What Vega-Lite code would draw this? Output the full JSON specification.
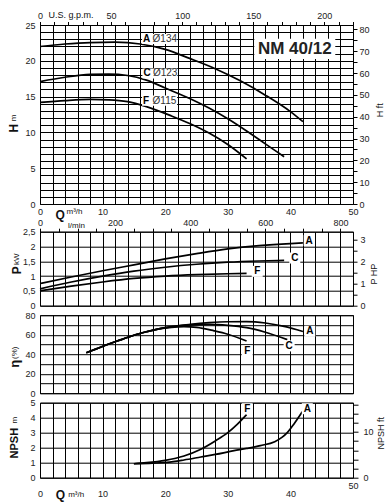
{
  "$schema": "https://vega.github.io/schema/vega-lite/v6.json",
  "padding": {"left": 6, "top": 9, "right": 0, "bottom": 0},
  "background": "white",
  "bounds": "flush",
  "spacing": 27.7,
  "datasets": {
    "H": [
      {"curve": "A", "q": 0, "h": 22.0}, {"curve": "A", "q": 4, "h": 22.35}, {"curve": "A", "q": 8, "h": 22.55}, {"curve": "A", "q": 12, "h": 22.6}, {"curve": "A", "q": 16, "h": 22.35}, {"curve": "A", "q": 20, "h": 21.6}, {"curve": "A", "q": 24, "h": 20.3}, {"curve": "A", "q": 28, "h": 18.9}, {"curve": "A", "q": 32, "h": 17.2}, {"curve": "A", "q": 36, "h": 15.2}, {"curve": "A", "q": 40, "h": 12.9}, {"curve": "A", "q": 42, "h": 11.5},
      {"curve": "C", "q": 0, "h": 17.1}, {"curve": "C", "q": 4, "h": 17.7}, {"curve": "C", "q": 8, "h": 18.1}, {"curve": "C", "q": 11, "h": 18.15}, {"curve": "C", "q": 14, "h": 17.95}, {"curve": "C", "q": 17, "h": 17.3}, {"curve": "C", "q": 20, "h": 16.2}, {"curve": "C", "q": 24, "h": 14.7}, {"curve": "C", "q": 27, "h": 13.4}, {"curve": "C", "q": 30, "h": 11.9}, {"curve": "C", "q": 33, "h": 10.2}, {"curve": "C", "q": 36, "h": 8.4}, {"curve": "C", "q": 39, "h": 6.6},
      {"curve": "F", "q": 0, "h": 14.2}, {"curve": "F", "q": 4, "h": 14.45}, {"curve": "F", "q": 8, "h": 14.6}, {"curve": "F", "q": 11, "h": 14.55}, {"curve": "F", "q": 14, "h": 14.3}, {"curve": "F", "q": 17, "h": 13.6}, {"curve": "F", "q": 21, "h": 12.3}, {"curve": "F", "q": 24, "h": 11.2}, {"curve": "F", "q": 27, "h": 9.9}, {"curve": "F", "q": 30, "h": 8.3}, {"curve": "F", "q": 33, "h": 6.3}
    ],
    "P": [
      {"curve": "A", "q": 0, "p": 0.75}, {"curve": "A", "q": 5, "p": 0.97}, {"curve": "A", "q": 10, "p": 1.18}, {"curve": "A", "q": 15, "p": 1.38}, {"curve": "A", "q": 20, "p": 1.58}, {"curve": "A", "q": 25, "p": 1.76}, {"curve": "A", "q": 30, "p": 1.92}, {"curve": "A", "q": 35, "p": 2.03}, {"curve": "A", "q": 40, "p": 2.1}, {"curve": "A", "q": 42, "p": 2.12},
      {"curve": "C", "q": 0, "p": 0.57}, {"curve": "C", "q": 5, "p": 0.8}, {"curve": "C", "q": 10, "p": 1.0}, {"curve": "C", "q": 15, "p": 1.17}, {"curve": "C", "q": 20, "p": 1.3}, {"curve": "C", "q": 25, "p": 1.4}, {"curve": "C", "q": 30, "p": 1.47}, {"curve": "C", "q": 35, "p": 1.51}, {"curve": "C", "q": 39, "p": 1.53},
      {"curve": "F", "q": 0, "p": 0.5}, {"curve": "F", "q": 5, "p": 0.66}, {"curve": "F", "q": 10, "p": 0.8}, {"curve": "F", "q": 15, "p": 0.92}, {"curve": "F", "q": 20, "p": 1.0}, {"curve": "F", "q": 25, "p": 1.05}, {"curve": "F", "q": 30, "p": 1.08}, {"curve": "F", "q": 33, "p": 1.09}
    ],
    "E": [
      {"curve": "A", "q": 7.4, "e": 41.5}, {"curve": "A", "q": 9, "e": 45.5}, {"curve": "A", "q": 11, "e": 50.5}, {"curve": "A", "q": 13, "e": 55}, {"curve": "A", "q": 15, "e": 59.5}, {"curve": "A", "q": 17, "e": 63}, {"curve": "A", "q": 19, "e": 66}, {"curve": "A", "q": 21, "e": 68.3}, {"curve": "A", "q": 24, "e": 70.6}, {"curve": "A", "q": 27, "e": 72.3}, {"curve": "A", "q": 30, "e": 73.3}, {"curve": "A", "q": 33, "e": 73.5}, {"curve": "A", "q": 36, "e": 72}, {"curve": "A", "q": 39, "e": 68.5}, {"curve": "A", "q": 42, "e": 63.3},
      {"curve": "C", "q": 7.4, "e": 41.5}, {"curve": "C", "q": 9, "e": 45.5}, {"curve": "C", "q": 11, "e": 50.5}, {"curve": "C", "q": 13, "e": 55}, {"curve": "C", "q": 15, "e": 59.5}, {"curve": "C", "q": 17, "e": 63}, {"curve": "C", "q": 19, "e": 66}, {"curve": "C", "q": 21, "e": 68}, {"curve": "C", "q": 24, "e": 70}, {"curve": "C", "q": 27, "e": 70.6}, {"curve": "C", "q": 30, "e": 69.6}, {"curve": "C", "q": 33, "e": 67.2}, {"curve": "C", "q": 36, "e": 62.5}, {"curve": "C", "q": 39.5, "e": 55},
      {"curve": "F", "q": 7.4, "e": 41.5}, {"curve": "F", "q": 9, "e": 45.5}, {"curve": "F", "q": 11, "e": 50.5}, {"curve": "F", "q": 13, "e": 55}, {"curve": "F", "q": 15, "e": 59.5}, {"curve": "F", "q": 17, "e": 63}, {"curve": "F", "q": 19, "e": 66}, {"curve": "F", "q": 21, "e": 67.6}, {"curve": "F", "q": 23, "e": 68.2}, {"curve": "F", "q": 25, "e": 67.5}, {"curve": "F", "q": 27.8, "e": 64}, {"curve": "F", "q": 30, "e": 60.5}, {"curve": "F", "q": 33, "e": 53.5}
    ],
    "N": [
      {"curve": "F", "q": 15, "n": 0.93}, {"curve": "F", "q": 17, "n": 1.0}, {"curve": "F", "q": 20, "n": 1.16}, {"curve": "F", "q": 23, "n": 1.45}, {"curve": "F", "q": 25.7, "n": 1.9}, {"curve": "F", "q": 28, "n": 2.45}, {"curve": "F", "q": 30, "n": 3.0}, {"curve": "F", "q": 31.5, "n": 3.55}, {"curve": "F", "q": 33, "n": 4.2},
      {"curve": "A", "q": 15, "n": 0.93}, {"curve": "A", "q": 18, "n": 0.97}, {"curve": "A", "q": 20.3, "n": 1.02}, {"curve": "A", "q": 23, "n": 1.18}, {"curve": "A", "q": 25.7, "n": 1.38}, {"curve": "A", "q": 28, "n": 1.55}, {"curve": "A", "q": 31, "n": 1.8}, {"curve": "A", "q": 33, "n": 1.95}, {"curve": "A", "q": 35.2, "n": 2.14}, {"curve": "A", "q": 37.5, "n": 2.4}, {"curve": "A", "q": 38.7, "n": 2.7}, {"curve": "A", "q": 39.5, "n": 3.0}, {"curve": "A", "q": 40.6, "n": 3.6}, {"curve": "A", "q": 41.9, "n": 4.4}
    ],
    "HL": [
      {"curve": "A", "diam": "Ø134", "q": 19.1, "h": 23.04},
      {"curve": "C", "diam": "Ø123", "q": 19.15, "h": 18.23},
      {"curve": "F", "diam": "Ø115", "q": 19.1, "h": 14.43}
    ],
    "NM": [{"model": "NM 40/12", "q": 40.7, "h": 21.65}],
    "PL": [{"curve": "A", "q": 43.0, "p": 2.2}, {"curve": "C", "q": 40.7, "p": 1.61}, {"curve": "F", "q": 34.7, "p": 1.16}],
    "EL": [{"curve": "A", "q": 43.1, "e": 63.6}, {"curve": "C", "q": 39.8, "e": 48.5}, {"curve": "F", "q": 33.1, "e": 43.4}],
    "NL": [{"curve": "F", "q": 33.1, "n": 4.6}, {"curve": "A", "q": 42.7, "n": 4.6}]
  },
  "vconcat": [
    {
      "width": 313, "height": 179,
      "resolve": {"axis": {"x": "independent", "y": "independent"}},
      "layer": [
        {
          "data": {"name": "H"},
          "mark": {"type": "line", "color": "#000", "strokeWidth": 1.7, "interpolate": "monotone"},
          "encoding": {
            "x": {"field": "q", "type": "quantitative", "scale": {"domain": [0, 50], "nice": false},
              "axis": {"values": [0,2,4,6,8,10,12,14,16,18,20,22,24,26,28,30,32,34,36,38,40,42,44,46,48,50], "grid": true, "labelExpr": "datum.value % 10 === 0 ? datum.label : ''", "labelPadding": 3, "title": "Q", "titleFontWeight": "bold", "titleFontSize": 12, "titleX": 19.7, "titleY": 10.7}},
            "y": {"field": "h", "type": "quantitative", "scale": {"domain": [0, 25], "nice": false},
              "axis": {"values": [0,1,2,3,4,5,6,7,8,9,10,11,12,13,14,15,16,17,18,19,20,21,22,23,24,25], "grid": true, "labelExpr": "datum.value % 5 === 0 ? datum.label : ''", "labelPadding": 5, "title": "H", "titleFontWeight": "bold", "titleFontSize": 12, "titleX": -26.8, "titleY": 102.7, "titleAngle": 270}},
            "detail": {"field": "curve"}
          }
        },
        {
          "data": {"name": "H"},
          "mark": {"type": "point", "opacity": 0},
          "encoding": {
            "x": {"field": "q", "type": "quantitative", "scale": {"domain": [0, 50], "nice": false},
              "axis": {"orient": "bottom", "labels": false, "title": "m³/h", "titleFontSize": 8, "titleX": 34, "titleY": 7.7}},
            "y": {"field": "h", "type": "quantitative", "scale": {"domain": [0, 25], "nice": false},
              "axis": {"orient": "left", "labels": false, "title": "m", "titleFontSize": 8, "titleX": -26.8, "titleY": 92.4, "titleAngle": 270}}
          }
        },
        {
          "data": {"name": "H"},
          "mark": {"type": "point", "opacity": 0},
          "encoding": {
            "x": {"field": "q", "type": "quantitative", "scale": {"domain": [0, 50], "nice": false},
              "axis": {"orient": "top", "values": [0,2.2712,4.5425,6.8137,9.085,11.3562,13.6274,15.8987,18.1699,20.4412,22.7124,24.9837,27.2549,29.5261,31.7974,34.0686,36.3399,38.6111,40.8823,43.1536,45.4248,47.6961,49.9673], "ticks": true, "tickSize": 3.5, "labelPadding": 1, "labelExpr": "round(datum.value*4.40287) % 50 === 0 ? '' + round(datum.value*4.40287) : ''", "title": "U.S. g.p.m.", "titleFontSize": 9, "titleX": 30.4, "titleY": -11}},
            "y": {"field": "h", "type": "quantitative", "scale": {"domain": [0, 25], "nice": false},
              "axis": {"orient": "right", "values": [0,1.524,3.048,4.572,6.096,7.62,9.144,10.668,12.192,13.716,15.24,16.764,18.288,19.812,21.336,22.86,24.384], "ticks": true, "tickSize": 4, "labelPadding": 2, "labelExpr": "round(datum.value*3.28084) % 10 === 0 ? '' + round(datum.value*3.28084) : ''", "title": "H ft", "titleFontSize": 9, "titleAngle": 270, "titleX": 26.2, "titleY": 84.7}}
          }
        },
        {
          "data": {"name": "HL"},
          "mark": {"type": "point", "shape": "M-1,-0.29H1V0.29H-1Z", "size": 1225, "filled": true, "color": "#fff", "opacity": 1, "strokeWidth": 0},
          "encoding": {
            "x": {"field": "q", "type": "quantitative", "scale": {"domain": [0, 50], "nice": false}, "axis": null},
            "y": {"field": "h", "type": "quantitative", "scale": {"domain": [0, 25], "nice": false}, "axis": null}
          }
        },
        {
          "data": {"name": "HL"},
          "mark": {"type": "text", "align": "left", "baseline": "middle", "dx": -16.5, "fontWeight": "bold", "fontSize": 10, "color": "#000"},
          "encoding": {
            "x": {"field": "q", "type": "quantitative", "scale": {"domain": [0, 50], "nice": false}, "axis": null},
            "y": {"field": "h", "type": "quantitative", "scale": {"domain": [0, 25], "nice": false}, "axis": null},
            "text": {"field": "curve"}
          }
        },
        {
          "data": {"name": "HL"},
          "mark": {"type": "text", "align": "left", "baseline": "middle", "dx": -7, "fontSize": 10, "color": "#333"},
          "encoding": {
            "x": {"field": "q", "type": "quantitative", "scale": {"domain": [0, 50], "nice": false}, "axis": null},
            "y": {"field": "h", "type": "quantitative", "scale": {"domain": [0, 25], "nice": false}, "axis": null},
            "text": {"field": "diam"}
          }
        },
        {
          "data": {"name": "NM"},
          "mark": {"type": "point", "shape": "M-1,-0.25H1V0.25H-1Z", "size": 6561, "filled": true, "color": "#fff", "opacity": 1, "strokeWidth": 0},
          "encoding": {
            "x": {"field": "q", "type": "quantitative", "scale": {"domain": [0, 50], "nice": false}, "axis": null},
            "y": {"field": "h", "type": "quantitative", "scale": {"domain": [0, 25], "nice": false}, "axis": null}
          }
        },
        {
          "data": {"name": "NM"},
          "mark": {"type": "text", "align": "center", "baseline": "middle", "fontWeight": "bold", "fontSize": 17, "color": "#222"},
          "encoding": {
            "x": {"field": "q", "type": "quantitative", "scale": {"domain": [0, 50], "nice": false}, "axis": null},
            "y": {"field": "h", "type": "quantitative", "scale": {"domain": [0, 25], "nice": false}, "axis": null},
            "text": {"field": "model"}
          }
        }
      ]
    },
    {
      "bounds": "flush",
      "spacing": 9.5,
      "vconcat": [
        {
          "width": 313, "height": 74,
          "resolve": {"axis": {"x": "independent", "y": "independent"}},
          "layer": [
            {
              "data": {"name": "P"},
              "mark": {"type": "line", "color": "#000", "strokeWidth": 1.7, "interpolate": "monotone"},
              "encoding": {
                "x": {"field": "q", "type": "quantitative", "scale": {"domain": [0, 50], "nice": false},
                  "axis": {"values": [0,2,4,6,8,10,12,14,16,18,20,22,24,26,28,30,32,34,36,38,40,42,44,46,48,50], "grid": true, "labels": false, "title": null}},
                "y": {"field": "p", "type": "quantitative", "scale": {"domain": [0, 2.5], "nice": false},
                  "axis": {"values": [0,0.5,1,1.5,2,2.5], "grid": true, "labelExpr": "replace('' + datum.value, '.', ',')", "labelPadding": 5, "title": "P", "titleFontWeight": "bold", "titleFontSize": 12, "titleX": -23.5, "titleY": 38, "titleAngle": 270}},
                "detail": {"field": "curve"}
              }
            },
            {
              "data": {"name": "P"},
              "mark": {"type": "point", "opacity": 0},
              "encoding": {
                "x": {"field": "q", "type": "quantitative", "scale": {"domain": [0, 50], "nice": false},
                  "axis": {"orient": "top", "values": [0,3,6,9,12,15,18,21,24,27,30,33,36,39,42,45,48], "ticks": true, "tickSize": 3.5, "labelPadding": 1, "labelExpr": "round(datum.value/0.06) % 200 === 0 ? '' + round(datum.value/0.06) : ''", "title": "l/min", "titleFontSize": 8, "titleX": 36, "titleY": -6}},
                "y": {"field": "p", "type": "quantitative", "scale": {"domain": [0, 2.5], "nice": false},
                  "axis": {"orient": "left", "labels": false, "title": "kW", "titleFontSize": 8, "titleX": -23.5, "titleY": 27, "titleAngle": 270}}
              }
            },
            {
              "data": {"name": "P"},
              "mark": {"type": "point", "opacity": 0},
              "encoding": {
                "y": {"field": "p", "type": "quantitative", "scale": {"domain": [0, 2.5], "nice": false},
                  "axis": {"orient": "right", "values": [0,0.37285,0.7457,1.11855,1.4914,1.86425,2.2371], "ticks": true, "tickSize": 4, "labelPadding": 3, "labelExpr": "round(datum.value/0.7457*2) % 2 === 0 ? '' + round(datum.value/0.7457) : ''", "title": "P HP", "titleFontSize": 9, "titleAngle": 270, "titleX": 20.2, "titleY": 42}}
              }
            },
            {
              "data": {"name": "PL"},
              "mark": {"type": "point", "shape": "M-1,-1H1V1H-1Z", "size": 121, "filled": true, "color": "#fff", "opacity": 1, "strokeWidth": 0},
              "encoding": {
                "x": {"field": "q", "type": "quantitative", "scale": {"domain": [0, 50], "nice": false}, "axis": null},
                "y": {"field": "p", "type": "quantitative", "scale": {"domain": [0, 2.5], "nice": false}, "axis": null}
              }
            },
            {
              "data": {"name": "PL"},
              "mark": {"type": "text", "align": "center", "baseline": "middle", "fontWeight": "bold", "fontSize": 10, "color": "#000"},
              "encoding": {
                "x": {"field": "q", "type": "quantitative", "scale": {"domain": [0, 50], "nice": false}, "axis": null},
                "y": {"field": "p", "type": "quantitative", "scale": {"domain": [0, 2.5], "nice": false}, "axis": null},
                "text": {"field": "curve"}
              }
            }
          ]
        },
        {
          "width": 313, "height": 78,
          "resolve": {"axis": {"x": "independent", "y": "independent"}},
          "layer": [
            {
              "data": {"name": "E"},
              "mark": {"type": "line", "color": "#000", "strokeWidth": 1.7, "interpolate": "monotone"},
              "encoding": {
                "x": {"field": "q", "type": "quantitative", "scale": {"domain": [0, 50], "nice": false},
                  "axis": {"values": [0,2,4,6,8,10,12,14,16,18,20,22,24,26,28,30,32,34,36,38,40,42,44,46,48,50], "grid": true, "labels": false, "title": null}},
                "y": {"field": "e", "type": "quantitative", "scale": {"domain": [0, 80], "nice": false},
                  "axis": {"values": [0,10,20,30,40,50,60,70,80], "grid": true, "labelExpr": "datum.value % 20 === 0 ? datum.label : ''", "labelPadding": 5, "title": "η", "titleFontWeight": "bold", "titleFontSize": 13, "titleX": -26, "titleY": 48, "titleAngle": 270}},
                "detail": {"field": "curve"}
              }
            },
            {
              "data": {"name": "E"},
              "mark": {"type": "point", "opacity": 0},
              "encoding": {
                "y": {"field": "e", "type": "quantitative", "scale": {"domain": [0, 80], "nice": false},
                  "axis": {"orient": "left", "labels": false, "title": "(%)", "titleFontSize": 8, "titleX": -25.3, "titleY": 37, "titleAngle": 270}}
              }
            },
            {
              "data": {"name": "EL"},
              "mark": {"type": "point", "shape": "M-1,-1H1V1H-1Z", "size": 121, "filled": true, "color": "#fff", "opacity": 1, "strokeWidth": 0},
              "encoding": {
                "x": {"field": "q", "type": "quantitative", "scale": {"domain": [0, 50], "nice": false}, "axis": null},
                "y": {"field": "e", "type": "quantitative", "scale": {"domain": [0, 80], "nice": false}, "axis": null}
              }
            },
            {
              "data": {"name": "EL"},
              "mark": {"type": "text", "align": "center", "baseline": "middle", "fontWeight": "bold", "fontSize": 10, "color": "#000"},
              "encoding": {
                "x": {"field": "q", "type": "quantitative", "scale": {"domain": [0, 50], "nice": false}, "axis": null},
                "y": {"field": "e", "type": "quantitative", "scale": {"domain": [0, 80], "nice": false}, "axis": null},
                "text": {"field": "curve"}
              }
            }
          ]
        },
        {
          "width": 313, "height": 75,
          "resolve": {"axis": {"x": "independent", "y": "independent"}},
          "layer": [
            {
              "data": {"name": "N"},
              "mark": {"type": "line", "color": "#000", "strokeWidth": 1.7, "interpolate": "monotone"},
              "encoding": {
                "x": {"field": "q", "type": "quantitative", "scale": {"domain": [0, 50], "nice": false},
                  "axis": {"values": [0,2,4,6,8,10,12,14,16,18,20,22,24,26,28,30,32,34,36,38,40,42,44,46,48,50], "grid": true, "labelExpr": "datum.value % 10 === 0 && datum.value < 50 ? datum.label : ''", "labelPadding": 12, "title": "Q", "titleFontWeight": "bold", "titleFontSize": 12, "titleX": 19.9, "titleY": 17}},
                "y": {"field": "n", "type": "quantitative", "scale": {"domain": [0, 5], "nice": false},
                  "axis": {"values": [0,1,2,3,4,5], "grid": true, "labelPadding": 5, "title": "NPSH", "titleFontWeight": "bold", "titleFontSize": 11, "titleX": -25.1, "titleY": 40, "titleAngle": 270}},
                "detail": {"field": "curve"}
              }
            },
            {
              "data": {"name": "N"},
              "mark": {"type": "point", "opacity": 0},
              "encoding": {
                "x": {"field": "q", "type": "quantitative", "scale": {"domain": [0, 50], "nice": false},
                  "axis": {"orient": "bottom", "labels": false, "title": "m³/h", "titleFontSize": 8, "titleX": 35.7, "titleY": 17}},
                "y": {"field": "n", "type": "quantitative", "scale": {"domain": [0, 5], "nice": false},
                  "axis": {"orient": "left", "labels": false, "title": "m", "titleFontSize": 8, "titleX": -25.3, "titleY": 17, "titleAngle": 270}}
              }
            },
            {
              "data": {"name": "N"},
              "mark": {"type": "point", "opacity": 0},
              "encoding": {
                "x": {"field": "q", "type": "quantitative", "scale": {"domain": [0, 50], "nice": false},
                  "axis": {"orient": "bottom", "values": [50], "labelPadding": 4, "title": null}},
                "y": {"field": "n", "type": "quantitative", "scale": {"domain": [0, 5], "nice": false},
                  "axis": {"orient": "right", "values": [0,0.6096,1.2192,1.8288,2.4384,3.048,3.6576,4.2672,4.8768], "ticks": true, "tickSize": 5, "labelPadding": 5, "labelExpr": "round(datum.value*3.28084) % 10 === 0 ? '' + round(datum.value*3.28084) : ''", "title": "NPSH ft", "titleFontSize": 9, "titleAngle": 270, "titleX": 27.4, "titleY": 30}}
              }
            },
            {
              "data": {"name": "NL"},
              "mark": {"type": "point", "shape": "M-1,-1H1V1H-1Z", "size": 121, "filled": true, "color": "#fff", "opacity": 1, "strokeWidth": 0},
              "encoding": {
                "x": {"field": "q", "type": "quantitative", "scale": {"domain": [0, 50], "nice": false}, "axis": null},
                "y": {"field": "n", "type": "quantitative", "scale": {"domain": [0, 5], "nice": false}, "axis": null}
              }
            },
            {
              "data": {"name": "NL"},
              "mark": {"type": "text", "align": "center", "baseline": "middle", "fontWeight": "bold", "fontSize": 10, "color": "#000"},
              "encoding": {
                "x": {"field": "q", "type": "quantitative", "scale": {"domain": [0, 50], "nice": false}, "axis": null},
                "y": {"field": "n", "type": "quantitative", "scale": {"domain": [0, 5], "nice": false}, "axis": null},
                "text": {"field": "curve"}
              }
            }
          ]
        }
      ]
    }
  ],
  "config": {
    "view": {"stroke": "#000", "strokeWidth": 1},
    "axis": {"domain": false, "ticks": false, "grid": false, "labelFont": "Liberation Sans", "labelFontSize": 9, "labelColor": "#222", "titleFont": "Liberation Sans", "titleColor": "#111", "titleFontWeight": "normal", "gridColor": "#000", "gridOpacity": 1, "gridWidth": 1, "tickColor": "#000", "tickWidth": 1, "labelOverlap": false, "labelFlush": false, "titleBaseline": "middle", "titleAlign": "center"},
    "text": {"font": "Liberation Sans"}
  }
}
